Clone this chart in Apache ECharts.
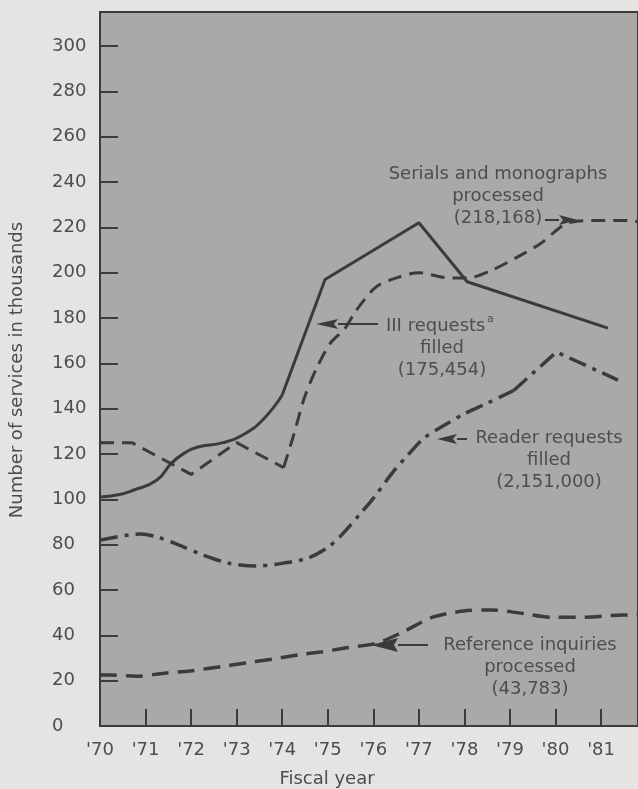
<!DOCTYPE html>
<html>
<head>
<meta charset="utf-8">
<script src="https://cdn.jsdelivr.net/npm/echarts@6/dist/echarts.min.js"></script>
<style>
  html, body { margin: 0; padding: 0; background: #e4e4e2; }
  #chart { width: 638px; height: 789px; }
</style>
</head>
<body>
<div id="chart"></div>
<script>
// Tick labels
var yearTicks = [70, 71, 72, 73, 74, 75, 76, 77, 78, 79, 80, 81];
var valueTicks = [0, 20, 40, 60, 80, 100, 120, 140, 160, 180, 200, 220, 240, 260, 280, 300];

// III requests filled (solid) - curved part and straight part
var illCurve = [[70, 101], [70.4, 102], [70.73, 104], [71.25, 108.5], [71.57, 116], [71.86, 120.5],
  [72.13, 123], [72.7, 125], [73.13, 128.4], [73.57, 135], [74, 146]];
var illLine = [[74, 146], [74.94, 197], [77, 222], [78.06, 196], [81.15, 175.5]];

// Serials and monographs processed (short dashes)
var serialsLine = [[70, 125], [70.7, 125], [72, 111], [73, 125], [74.03, 114]];
var serialsCurve = [[74.03, 114], [74.24, 127.6], [74.49, 145], [74.77, 158.5], [75.06, 169], [75.36, 175],
  [75.58, 182], [75.8, 188], [76.08, 194], [76.49, 197.6], [77, 200], [77.52, 198], [78.06, 197.6],
  [78.59, 201], [79.32, 208.6], [79.68, 213], [80.29, 222], [80.95, 223], [81.61, 223], [81.81, 222.5]];

// Reader requests filled (dash-dot)
var readerCurve = [[70, 82], [70.89, 84.7], [71.24, 83.5], [71.71, 80], [72.27, 75.4], [72.83, 71.8],
  [73.41, 70.6], [73.91, 71.5], [74.55, 74], [74.98, 78.5], [75.29, 84], [75.73, 94], [76.02, 101],
  [76.43, 112], [76.78, 120], [77.11, 127], [77.5, 132], [78.02, 138], [78.51, 142.5], [79.08, 148]];
var readerLine = [[79.08, 148], [80.02, 165], [81.37, 152.6]];

// Reference inquiries processed (long dashes)
var referenceCurve = [[70, 22.5], [70.2, 22.5], [70.82, 22], [71.41, 23.3], [71.98, 24.3], [72.6, 26],
  [73.19, 27.8], [73.78, 29.5], [74.49, 31.8], [74.83, 32.6], [75.38, 34.4], [76.08, 36.6], [76.65, 41.5],
  [77.3, 48], [77.98, 50.7], [78.57, 51.2], [79.23, 49.8], [79.9, 48], [80.66, 48], [81.48, 49], [81.81, 49]];

var ink = '#3b3b3b';
var txt = '#4d4d4d';
var FONT = 'DejaVu Sans';

function lineSeries(data, dash, smooth, width) {
  return {
    type: 'line', data: data, smooth: smooth, showSymbol: false, symbol: 'none',
    silent: true, animation: false,
    lineStyle: { color: ink, width: width || 3, type: dash, cap: 'butt' }
  };
}

function arrow(x1, x2, y, len, half) {
  var dir = x2 > x1 ? 1 : -1;
  var base = x2 - dir * len;
  return [
    { type: 'line', silent: true, z: 100,
      shape: { x1: x1, y1: y, x2: base, y2: y },
      style: { stroke: ink, lineWidth: 2 } },
    { type: 'polygon', silent: true, z: 100,
      shape: { points: [[x2, y], [base, y - half], [base + dir * 4, y], [base, y + half]] },
      style: { fill: ink } }
  ];
}

function label(x, y, text, align) {
  return { type: 'text', silent: true, z: 100, x: x, y: y,
    style: { text: text, fill: txt, fontFamily: FONT, fontSize: 18, lineHeight: 22,
      align: align || 'center', verticalAlign: 'middle' } };
}

var graphics = [].concat(
  [label(498, 196, 'Serials and monographs\nprocessed\n(218,168)')],
  arrow(545, 578, 220, 19, 5),
  [label(386, 326, 'III requests', 'left'),
   { type: 'text', silent: true, z: 100, x: 487, y: 319,
     style: { text: 'a', fill: txt, fontFamily: FONT, fontSize: 11, align: 'left', verticalAlign: 'middle' } },
   label(442, 359, 'filled\n(175,454)')],
  arrow(378, 316, 324, 22, 5),
  [label(549, 460, 'Reader requests\nfilled\n(2,151,000)')],
  arrow(467, 437, 439, 20, 5),
  [label(530, 667, 'Reference inquiries\nprocessed\n(43,783)')],
  arrow(428, 371, 645, 27, 7),
  [{ type: 'text', silent: true, x: 327, y: 779,
     style: { text: 'Fiscal year', fill: txt, fontFamily: FONT, fontSize: 18, align: 'center', verticalAlign: 'middle' } },
   { type: 'text', silent: true, x: 17, y: 370, rotation: Math.PI / 2,
     style: { text: 'Number of services in thousands', fill: txt, fontFamily: FONT, fontSize: 18,
       align: 'center', verticalAlign: 'middle' } }]
);

var chart = echarts.init(document.getElementById('chart'), null, { renderer: 'canvas' });
chart.setOption({
  animation: false,
  backgroundColor: '#e4e4e2',
  grid: { left: 100, right: -2, top: 12, bottom: 63, show: true,
    backgroundColor: '#a9a9a8', borderColor: ink, borderWidth: 2 },
  xAxis: {
    type: 'value', min: 70, max: 81.81, interval: 1,
    splitLine: { show: false },
    axisLine: { show: true, lineStyle: { color: ink, width: 2 } },
    axisTick: { show: true, inside: true, length: 17, customValues: yearTicks.slice(1),
      lineStyle: { color: ink, width: 2 } },
    axisLabel: { customValues: yearTicks, margin: 15, color: txt, fontFamily: FONT, fontSize: 18,
      formatter: function (v) { return yearTicks.indexOf(v) >= 0 ? "'" + v : ''; } }
  },
  yAxis: {
    type: 'value', min: 0, max: 315, interval: 20,
    splitLine: { show: false },
    axisLine: { show: true, lineStyle: { color: ink, width: 2 } },
    axisTick: { show: true, inside: true, length: 18, customValues: valueTicks.slice(1),
      lineStyle: { color: ink, width: 2 } },
    axisLabel: { customValues: valueTicks, margin: 48, align: 'left', color: txt, fontFamily: FONT, fontSize: 18,
      formatter: function (v) { return valueTicks.indexOf(v) >= 0 ? String(v) : ''; } }
  },
  series: [
    lineSeries(illCurve, 'solid', 0.5, 3),
    lineSeries(illLine, 'solid', false, 3),
    lineSeries(serialsLine, [14, 8], false, 3),
    lineSeries(serialsCurve, [14, 8], 0.3, 3),
    lineSeries(readerCurve, [18, 7, 4, 7], 0.3, 3.5),
    lineSeries(readerLine, [18, 7, 4, 7], false, 3.5),
    lineSeries(referenceCurve, [17, 9], 0.3, 3.5)
  ],
  graphic: graphics
});
</script>
</body>
</html>
